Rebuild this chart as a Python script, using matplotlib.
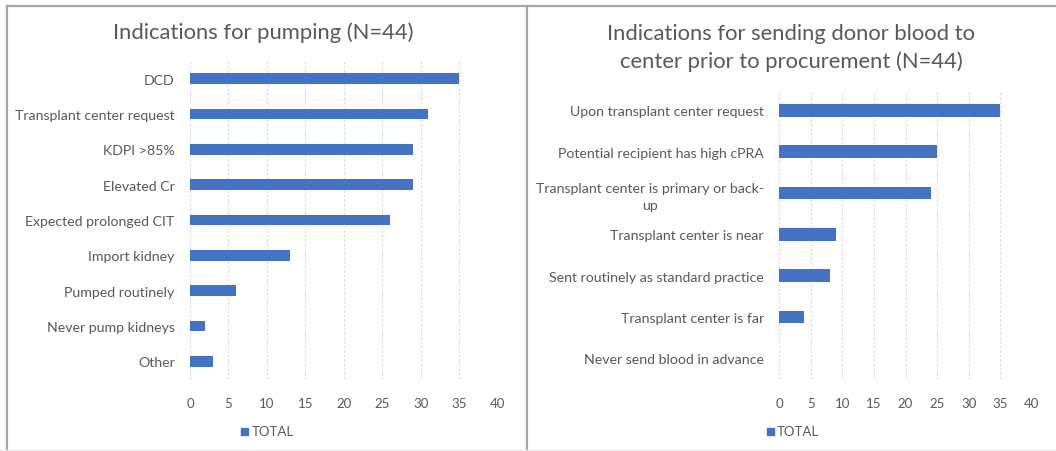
import matplotlib
matplotlib.use("Agg")
import matplotlib.pyplot as plt
from matplotlib.lines import Line2D
from matplotlib.patches import Rectangle

plt.rcParams['font.family'] = ['Lato', 'DejaVu Sans']

# Pumping indications (top to bottom)
pump_labels = ["DCD", "Transplant center request", "KDPI >85%", "Elevated Cr",
               "Expected prolonged CIT", "Import kidney", "Pumped routinely",
               "Never pump kidneys", "Other"]
pump_counts = [35, 31, 29, 29, 26, 13, 6, 2, 3]

# Blood sending indications (top to bottom)
blood_labels = ["Upon transplant center request", "Potential recipient has high cPRA",
                "Transplant center is primary or back-\nup", "Transplant center is near",
                "Sent routinely as standard practice", "Transplant center is far",
                "Never send blood in advance"]
blood_counts = [35, 25, 24, 9, 8, 4, 0]

xticks = [0, 5, 10, 15, 20, 25, 30, 35, 40]

bar_color = "#4472C4"
text_color = "#595959"
W, H = 1056, 452

fig = plt.figure(figsize=(W / 100, H / 100), dpi=100)


def px_axes(x0, x1, y0, y1):
    return fig.add_axes([x0 / W, 1 - y1 / H, (x1 - x0) / W, (y1 - y0) / H])


def draw_bars(ax, labels, counts, label_pad):
    pos = list(range(len(labels)))
    ax.barh(pos, counts, height=0.3, color=bar_color, zorder=3)
    ax.set_ylim(len(labels) - 0.5, -0.5)
    ax.set_xlim(0, 40)
    ax.set_xticks(xticks)
    ax.set_yticks(pos)
    ax.set_yticklabels(labels, multialignment="center", linespacing=1.5)
    ax.tick_params(axis="both", length=0, colors=text_color)
    ax.tick_params(axis="x", pad=13, labelsize=9.5)
    ax.tick_params(axis="y", pad=label_pad, labelsize=10.2)
    for s in ax.spines.values():
        s.set_visible(False)
    ax.grid(axis="x", color="#d9d9d9", linestyle=(0, (2, 2)), linewidth=0.8, zorder=0)


ax1 = px_axes(190, 497.7, 62, 380)
draw_bars(ax1, pump_labels, pump_counts, 11)

ax2 = px_axes(779, 1032, 90.7, 380)
draw_bars(ax2, blood_labels, blood_counts, 11)

# Titles
fig.text(263 / W, 1 - 33 / H, "Indications for pumping (N=44)", ha="center", va="center",
         fontsize=15.8, color=text_color)
fig.text(791 / W, 1 - 48 / H, "Indications for sending donor blood to\ncenter prior to procurement (N=44)",
         ha="center", va="center", fontsize=15.8, color=text_color, linespacing=1.42)

# Legends
for mx in (245, 770):
    fig.patches.append(Rectangle((mx / W - 3.5 / W, 1 - 436 / H), 7 / W, 7 / H,
                                 transform=fig.transFigure, color=bar_color))
    fig.text((mx + 7) / W, 1 - 432 / H, "TOTAL", ha="left", va="center",
             fontsize=9.5, color=text_color)

# Panel frames
border = "#a6a6a6"
fig.add_artist(Line2D([6.5 / W, 1], [1 - 6.5 / H] * 2, color=border, lw=1.6))
fig.add_artist(Line2D([6.5 / W] * 2, [0, 1 - 6.5 / H], color=border, lw=1.6))
fig.add_artist(Line2D([527 / W] * 2, [0, 1 - 6.5 / H], color=border, lw=1.6))
fig.add_artist(Line2D([0, 1], [1 - 451 / H] * 2, color="#ebebeb", lw=1.0))

fig.savefig("out.png", dpi=100, facecolor="white")
